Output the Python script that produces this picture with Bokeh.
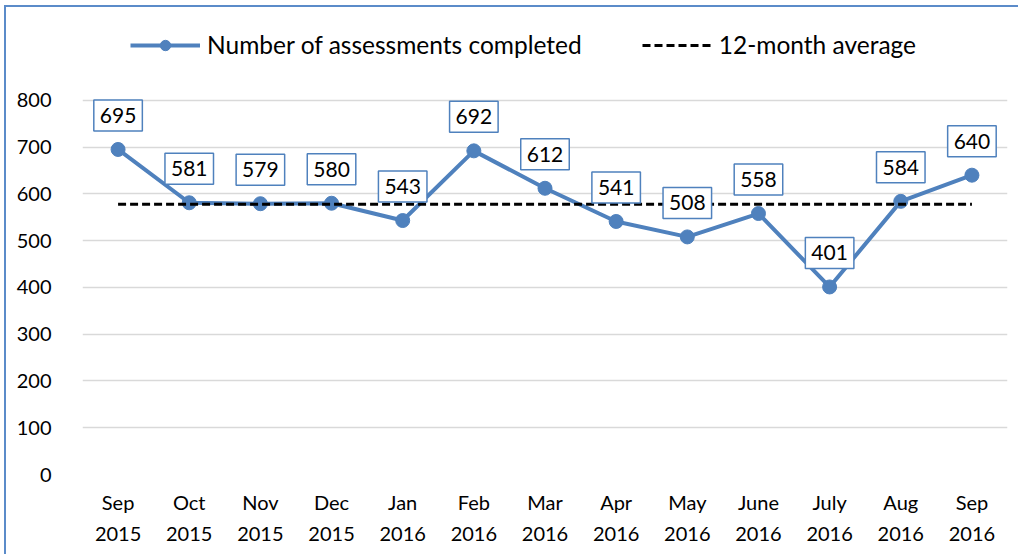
from bokeh.plotting import figure
from bokeh.models import (FactorRange, Range1d, FixedTicker,
                          ColumnDataSource, Legend, LegendItem)
from bokeh.embed import file_html
from bokeh.resources import INLINE
from bokeh.core.properties import value

# ---- data ----
months = ["Sep", "Oct", "Nov", "Dec", "Jan", "Feb", "Mar", "Apr", "May",
          "June", "July", "Aug", "Sep"]
years = ["2015", "2015", "2015", "2015", "2016", "2016", "2016", "2016",
         "2016", "2016", "2016", "2016", "2016"]
assessments = [695, 581, 579, 580, 543, 692, 612, 541, 508, 558, 401, 584, 640]
average_12m = 578
y_ticks = [0, 100, 200, 300, 400, 500, 600, 700, 800]
series_name = "Number of assessments completed"
average_name = "12-month average"

categories = [f"{m}\n{y}" for m, y in zip(months, years)]

FONT = "Lato"
BLUE = "#4F81BD"

source = ColumnDataSource(dict(
    cat=categories,
    val=assessments,
    avg=[average_12m] * len(categories),
    label=[str(v) for v in assessments],
))

p = figure(width=1014, height=549,
           x_range=FactorRange(factors=categories),
           y_range=Range1d(0, 975),
           output_backend="svg", toolbar_location=None,
           min_border_left=76, min_border_right=13,
           min_border_top=11, min_border_bottom=82,
           background_fill_color="white", border_fill_color="white")
p.outline_line_color = None
p.styles = {"margin-left": "4px", "margin-top": "5px",
            "border-left": "2px solid #5B8BC9", "border-top": "2px solid #5B8BC9"}

# y axis
p.yaxis.ticker = FixedTicker(ticks=y_ticks)
p.yaxis.axis_line_color = None
p.yaxis.major_tick_line_color = None
p.yaxis.minor_tick_line_color = None
p.yaxis.major_label_standoff = 25
p.yaxis.major_label_text_font = FONT
p.yaxis.major_label_text_font_size = "20px"
p.yaxis.major_label_text_color = "black"

p.ygrid.ticker = FixedTicker(ticks=y_ticks)
p.ygrid.grid_line_color = "#d9d9d9"
p.ygrid.grid_line_width = 1.5
p.xgrid.grid_line_color = None

# x axis: two-line labels (month / year)
xa = p.xaxis[0]
xa.axis_line_color = None
xa.major_tick_line_color = None
xa.major_tick_out = 0
xa.major_label_standoff = 15
xa.major_label_text_font = FONT
xa.major_label_text_font_size = "20px"
xa.major_label_text_line_height = 1.3
xa.major_label_text_color = "black"

# series
r_line = p.line("cat", "val", source=source, line_color=BLUE, line_width=4)
r_pts = p.scatter("cat", "val", source=source, size=14, fill_color=BLUE, line_color=BLUE)
r_avg = p.line("cat", "avg", source=source, line_color="black", line_width=3,
               line_dash="8 4")

# data labels
p.text("cat", "val", text="label", source=source, y_offset=-34,
       text_align="center", text_baseline="middle",
       text_font=value(FONT), text_font_size="21px", text_color="black",
       background_fill_color="white", border_line_color=BLUE,
       border_line_width=1.5, padding=(6, 8))

legend = Legend(items=[LegendItem(label=series_name, renderers=[r_line, r_pts]),
                       LegendItem(label=average_name, renderers=[r_avg])],
                orientation="horizontal", location=(48, 415),
                glyph_width=70, glyph_height=26, label_height=26,
                label_standoff=7, spacing=60,
                padding=0, margin=0, border_line_color=None,
                background_fill_alpha=0,
                label_text_font=FONT, label_text_font_size="24.5px",
                label_text_color="black")
p.add_layout(legend, "center")

open("out.html", "w").write(file_html(p, INLINE))
